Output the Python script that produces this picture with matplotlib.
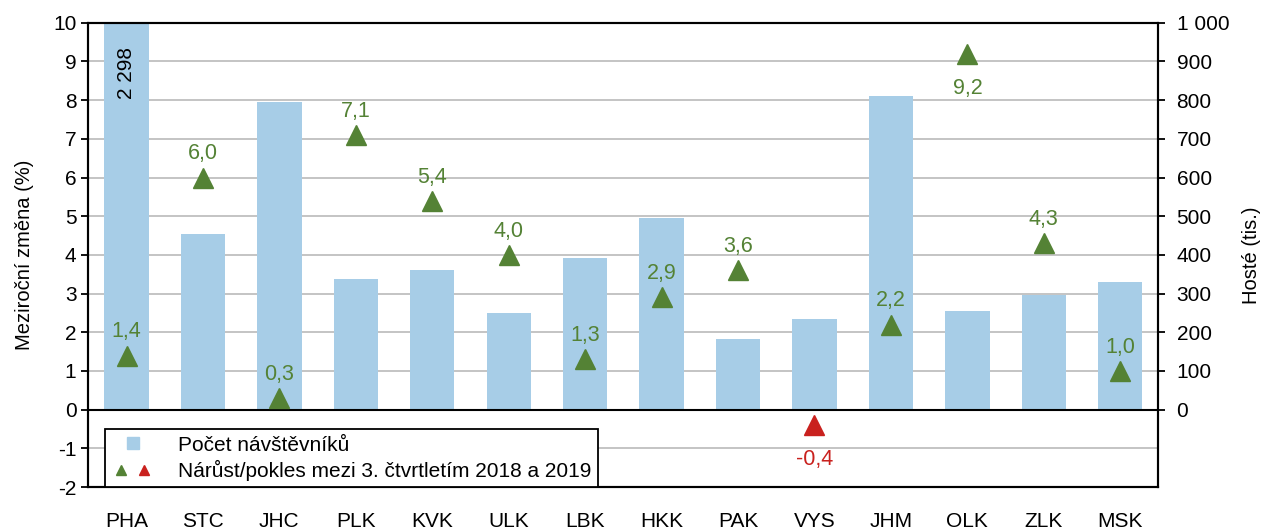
import matplotlib
matplotlib.use("Agg")
import matplotlib.pyplot as plt
from matplotlib.lines import Line2D
from matplotlib.legend_handler import HandlerTuple
from matplotlib.ticker import FuncFormatter

plt.rcParams['font.family'] = ['Liberation Sans', 'DejaVu Sans']
plt.rcParams['axes.unicode_minus'] = False

# data
regions = ["PHA", "STC", "JHC", "PLK", "KVK", "ULK", "LBK",
           "HKK", "PAK", "VYS", "JHM", "OLK", "ZLK", "MSK"]
guests = [2298, 454, 795, 337, 362, 251, 392,
          496, 184, 235, 810, 256, 297, 331]       # tis.
change = [1.4, 6.0, 0.3, 7.1, 5.4, 4.0, 1.3,
          2.9, 3.6, -0.4, 2.2, 9.2, 4.3, 1.0]     # %

BAR = "#A7CDE7"
GREEN = "#548235"
RED = "#C9211E"
GRID = "#BFBFBF"

fig = plt.figure(figsize=(12.65, 5.3), dpi=100)
ax = fig.add_axes([0.0698, 0.081, 0.846, 0.876])
ax2 = ax.twinx()
ax.set_zorder(ax2.get_zorder() + 1)
ax.patch.set_visible(False)

x = range(len(regions))

# bars on the right axis (behind)
ax2.bar(x, guests, width=0.58, color=BAR, zorder=2)
ax2.set_ylim(-200, 1000)
ax2.set_yticks(range(0, 1001, 100))
ax2.set_yticks([-100], minor=True)
ax2.yaxis.set_major_formatter(FuncFormatter(lambda v, p: f"{int(v):,}".replace(",", " ")))
ax2.grid(axis="y", which="both", color=GRID, lw=1.3, zorder=0)
ax2.tick_params(axis="y", which="major", direction="out", length=5, width=1.3,
                labelsize=15, pad=8)
ax2.tick_params(axis="y", which="minor", length=0)
ax2.set_ylabel("Hosté (tis.)", fontsize=14.5, labelpad=9)

# clipped PHA bar label
ax2.text(0, 870, f"{guests[0]:,}".replace(",", " "), rotation=90,
         ha="center", va="center", fontsize=15, color="black", zorder=3)

# markers on the left axis (front)
ax.set_xlim(-0.5, len(regions) - 0.5)
ax.set_ylim(-2, 10)
ax.set_yticks(range(-2, 11))
ax.axhline(0, color="black", lw=1.5, zorder=1)
for i, v in enumerate(change):
    col = GREEN if v >= 0 else RED
    ax.plot(i, v, marker="^", ms=14, color=col, ls="", zorder=4)
    below = v < 0 or v > 9
    off = -25 if below else 17
    ax.annotate(f"{v:.1f}".replace(".", ","), (i, v), xytext=(0, off),
                textcoords="offset points", ha="center", va="center",
                fontsize=15.5, color=col, zorder=4)

ax.set_xticks(list(x))
ax.set_xticklabels(regions)
ax.tick_params(axis="x", length=0, labelsize=15, pad=18)
ax.tick_params(axis="y", direction="out", length=5, width=1.3, labelsize=15)
ax.set_ylabel("Meziroční změna (%)", fontsize=14.5, labelpad=14)
for a in (ax, ax2):
    for s in a.spines.values():
        s.set_color("black")
        s.set_linewidth(1.5)

h_bar = Line2D([], [], marker="s", ls="", color=BAR, ms=8)
h_g = Line2D([], [], marker="^", ls="", color=GREEN, ms=7)
h_r = Line2D([], [], marker="^", ls="", color=RED, ms=7)
leg = ax.legend([h_bar, (h_g, h_r)],
                ["Počet návštěvníků", "Nárůst/pokles mezi 3. čtvrtletím 2018 a 2019"],
                handler_map={tuple: HandlerTuple(ndivide=None, pad=0.3)},
                loc="lower left", bbox_to_anchor=(0.016, 0.0), borderaxespad=0,
                fontsize=15, frameon=True, fancybox=False, framealpha=1,
                edgecolor="black", handlelength=2.0, handletextpad=1.2,
                labelspacing=0.25, borderpad=0.3)
leg.get_frame().set_linewidth(1.3)
leg.set_zorder(5)

fig.savefig("out.png", dpi=100)
